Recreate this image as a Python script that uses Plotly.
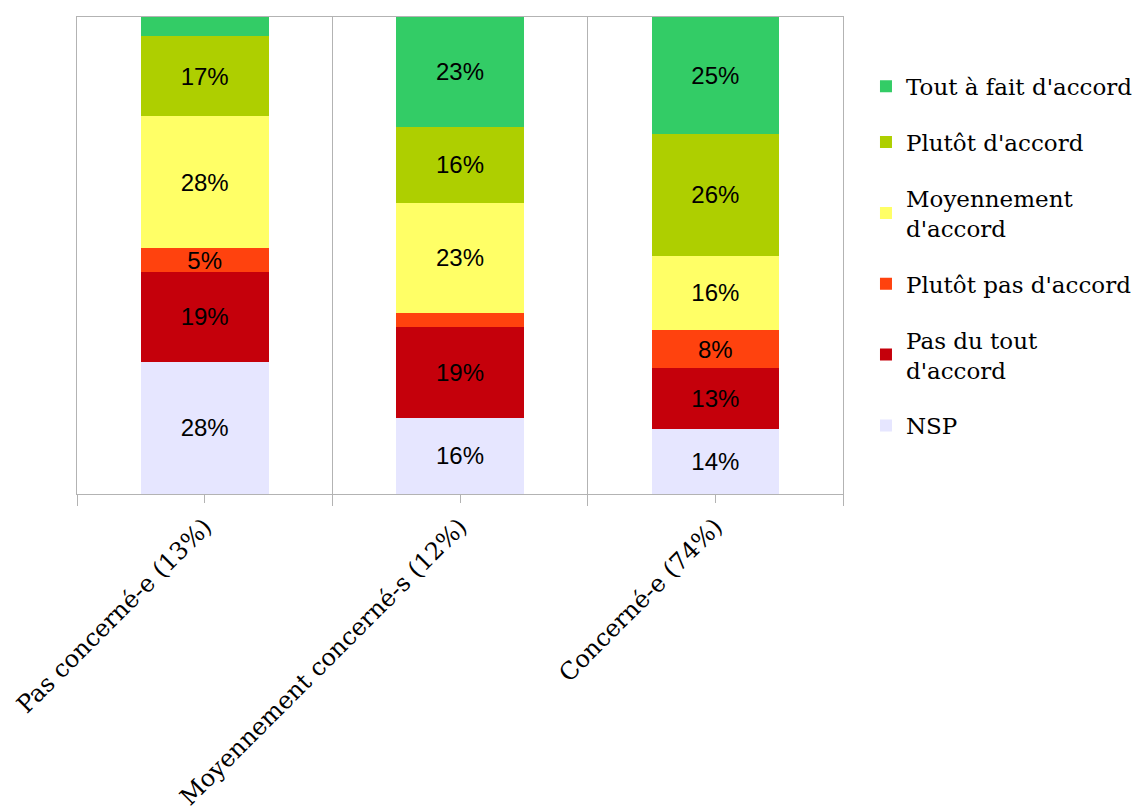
import plotly.graph_objects as go

categories = ["Pas concerné-e (13%)", "Moyennement concerné-s (12%)", "Concerné-e (74%)"]

# series, bottom to top of the stack
series_names = ["NSP", "Pas du tout<br>d'accord", "Plutôt pas d'accord",
                "Moyennement<br>d'accord", "Plutôt d'accord", "Tout à fait d'accord"]
nsp = [28, 16, 14]
pas_du_tout = [19, 19, 13]
plutot_pas = [5, 3, 8]
moyennement = [28, 23, 16]
plutot = [17, 16, 26]
tout_a_fait = [4, 23, 25]

# labels as printed in the chart (small segments have none)
nsp_labels = ["28%", "16%", "14%"]
pas_du_tout_labels = ["19%", "19%", "13%"]
plutot_pas_labels = ["5%", "", "8%"]
moyennement_labels = ["28%", "23%", "16%"]
plutot_labels = ["17%", "16%", "26%"]
tout_a_fait_labels = ["", "23%", "25%"]

colors = ["#E6E6FF", "#C5000B", "#FF420E", "#FFFF66", "#AECF00", "#33CC66"]

values = [nsp, pas_du_tout, plutot_pas, moyennement, plutot, tout_a_fait]
labels = [nsp_labels, pas_du_tout_labels, plutot_pas_labels,
          moyennement_labels, plutot_labels, tout_a_fait_labels]

x_pos = list(range(len(categories)))
grid = "#b3b3b3"

fig = go.Figure()
n = len(series_names)
for i, (name, vals, txt, col) in enumerate(zip(series_names, values, labels, colors)):
    fig.add_trace(go.Bar(
        x=x_pos, y=vals, name=name, text=txt,
        marker=dict(color=col, line=dict(width=0)),
        width=0.5, textposition="inside", insidetextanchor="middle",
        textangle=0, textfont=dict(family="Liberation Sans", size=24, color="black"),
        legendgroup=name, legendrank=n - i,
    ))

# page body adds ~8px offset, so the figure is a bit smaller than the window
fig.update_layout(
    barmode="stack", barnorm="percent",
    width=1135, height=803,
    margin=dict(l=69, r=300, t=9, b=317, autoexpand=False),
    plot_bgcolor="white", paper_bgcolor="white",
    uniformtext=dict(minsize=24, mode="show"),
    font=dict(family="DejaVu Serif", size=23, color="black"),
    legend=dict(x=1.03, y=0.9, xanchor="left", yanchor="top",
                traceorder="grouped", tracegroupgap=23,
                font=dict(family="DejaVu Serif", size=23)),
    showlegend=True,
)
fig.update_xaxes(
    range=[-0.5, 2.5], tickvals=x_pos, ticktext=categories, tickangle=-45,
    ticks="outside", ticklen=8, tickcolor=grid, showgrid=False,
    showline=True, linecolor=grid, mirror=True, automargin=False,
    minor=dict(tickvals=[-0.5, 0.5, 1.5, 2.5], ticks="outside", ticklen=11,
               tickcolor=grid, showgrid=True, gridcolor=grid, gridwidth=1),
    tickfont=dict(family="DejaVu Serif", size=24),
)
fig.update_yaxes(
    range=[0, 100], showticklabels=False, showgrid=False, zeroline=False,
    showline=True, linecolor=grid, mirror=True, ticks="", automargin=False,
)

fig.write_html("out.html")
